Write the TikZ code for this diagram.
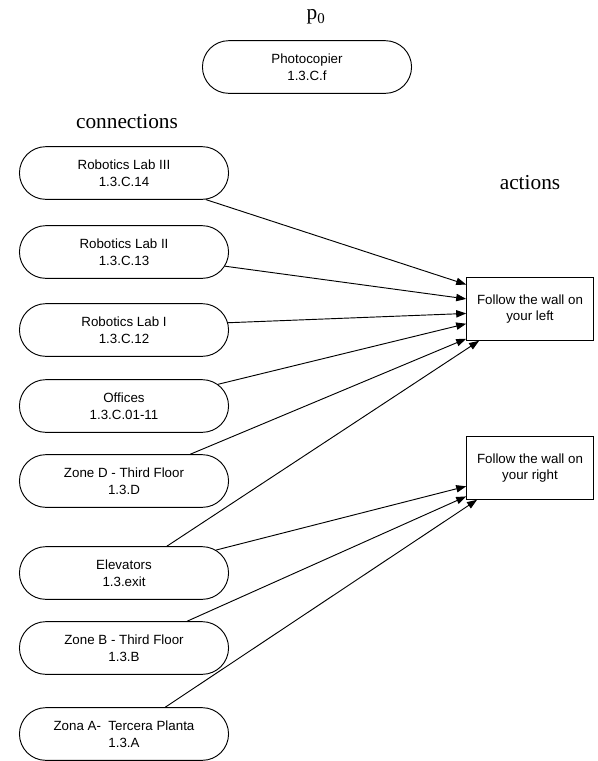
\documentclass[tikz,border=0pt]{standalone}
\usepackage{fontspec}
\setmainfont{Liberation Serif}
\setsansfont{Liberation Sans}
\usetikzlibrary{shapes.misc,arrows.meta}

\begin{document}
\begin{tikzpicture}[x=0.75pt,y=-0.75pt,
    place/.style={rounded rectangle, draw, line width=0.7pt, minimum width=163.5pt, minimum height=39.5pt, align=center, font=\sffamily\fontsize{10}{12.5}\selectfont},
    action/.style={rectangle, draw, line width=0.7pt, minimum width=95pt, minimum height=47pt, align=center, font=\sffamily\fontsize{10}{12.5}\selectfont},
    heading/.style={font=\fontsize{16}{19}\selectfont},
    link/.style={-{Triangle[length=7.5pt,width=5.5pt]}, line width=0.7pt}]
    \useasboundingbox (0,0) rectangle (597,761);

    % headings
    \node[heading] (p0) at (316,17) {p\textsubscript{0}};
    \node[heading] (conn) at (127,122) {connections};
    \node[heading] (act) at (530,183) {actions};

    % places
    \node[place] (copier) at (307,67) {Photocopier\\1.3.C.f};
    \node[place] (lab3) at (124,173) {Robotics Lab III\\1.3.C.14};
    \node[place] (lab2) at (124,252) {Robotics Lab II\\1.3.C.13};
    \node[place] (lab1) at (124,330) {Robotics Lab I\\1.3.C.12};
    \node[place] (offices) at (124,406) {Offices\\1.3.C.01-11};
    \node[place] (zoned) at (124,481) {Zone D - Third Floor\\1.3.D};
    \node[place] (elevators) at (124,573) {Elevators\\1.3.exit};
    \node[place] (zoneb) at (124,648) {Zone B - Third Floor\\1.3.B};
    \node[place] (zonaa) at (124,734) {Zona A-~ Tercera Planta\\1.3.A};

    % actions
    \node[action] (left) at (530,309) {Follow the wall on\\your left};
    \node[action] (right) at (530,468) {Follow the wall on\\your right};

    \draw[link] (lab3.-18) -- (left.159);
    \draw[link] (lab2.-8) -- (left.171);
    \draw[link] (lab1.4) -- (left.184);
    \draw[link] (offices.13) -- (left.193);
    \draw[link] (zoned.22) -- (left.205);
    \draw[link] (elevators.32) -- (left.212);
    \draw[link] (elevators.14) -- (right.196);
    \draw[link] (zoneb.23) -- (right.204);
    \draw[link] (zonaa.33) -- (right.211);
\end{tikzpicture}
\end{document}
